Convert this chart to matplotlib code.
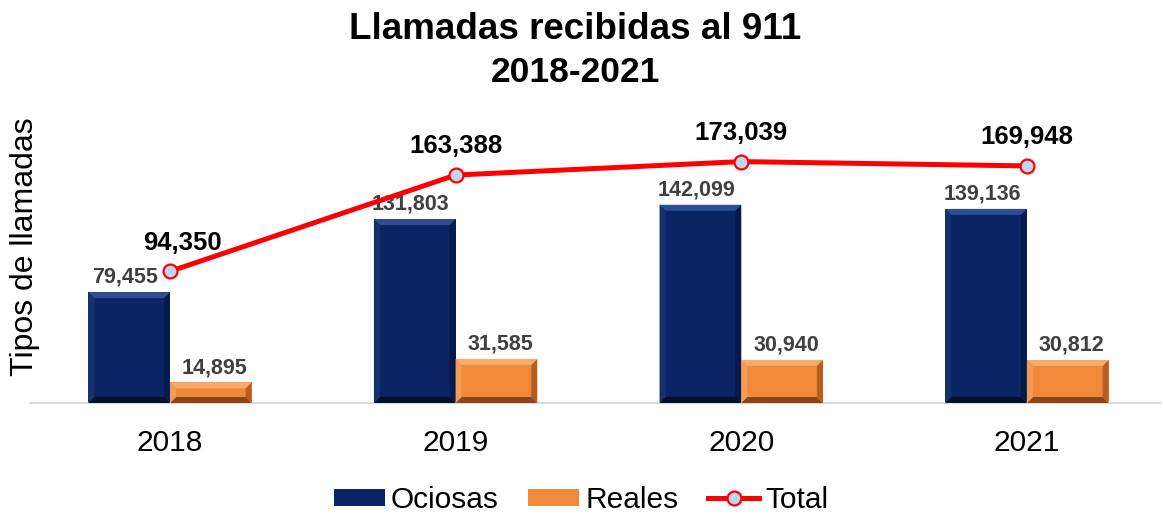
import matplotlib
matplotlib.use("Agg")
from matplotlib import pyplot as plt
from matplotlib.patches import Polygon
import numpy as np

years = ["2018", "2019", "2020", "2021"]
ociosas = [79455, 131803, 142099, 139136]
reales = [14895, 31585, 30940, 30812]
total = [94350, 163388, 173039, 169948]

plt.rcParams['font.family'] = ['Liberation Sans', 'DejaVu Sans']

W, H = 1163, 516
fig = plt.figure(figsize=(W / 100, H / 100), dpi=100)
ax = fig.add_axes([30 / W, 113 / H, 1130 / W, 303 / H])

x = np.arange(len(years))
bw = 0.286
navy = "#0b2464"
orange = "#f08a3a"

b1 = ax.bar(x - bw / 2, ociosas, bw, color=navy, label="Ociosas", zorder=2)
b2 = ax.bar(x + bw / 2, reales, bw, color=orange, label="Reales", zorder=2)
ln, = ax.plot(x, total, color="#ff0000", lw=3.6, marker="o", ms=10,
              mfc="#bdd7ee", mec="#ff0000", mew=1.6, label="Total", zorder=4)

ax.set_xlim(-0.49, 3.466)
ax.set_ylim(0, 217200)


def bevel(bars, top, left, bottom, right, size=6):
    # bevelled edges, sized in pixels
    inv = ax.transData.inverted()
    for b in bars:
        x0, y0 = b.get_x(), b.get_y()
        x1, y1 = x0 + b.get_width(), y0 + b.get_height()
        (px0, py0), (px1, py1) = ax.transData.transform([(x0, y0), (x1, y1)])
        s = min(size, (py1 - py0) / 3)
        outer = [(px0, py0), (px1, py0), (px1, py1), (px0, py1)]
        inner = [(px0 + s, py0 + s), (px1 - s, py0 + s), (px1 - s, py1 - s), (px0 + s, py1 - s)]
        sides = [
            ([outer[0], outer[1], inner[1], inner[0]], bottom),
            ([outer[1], outer[2], inner[2], inner[1]], right),
            ([outer[2], outer[3], inner[3], inner[2]], top),
            ([outer[3], outer[0], inner[0], inner[3]], left),
        ]
        for pts, c in sides:
            ax.add_patch(Polygon(inv.transform(pts), closed=True, facecolor=c,
                                 edgecolor="none", zorder=3))


bevel(b1, "#2e4d92", "#16316f", "#030f30", "#061a4c")
bevel(b2, "#f8ab6c", "#f39c55", "#8e4614", "#b85d1c")

for xi, v in zip(x - bw / 2, ociosas):
    ax.annotate(f"{v:,}", (xi, v), xytext=(-3, 3), textcoords="offset points",
                ha="center", va="bottom", fontsize=15.5, fontweight="bold", color="#404040")
for xi, v in zip(x + bw / 2, reales):
    ax.annotate(f"{v:,}", (xi, v), xytext=(3, 3), textcoords="offset points",
                ha="center", va="bottom", fontsize=15.5, fontweight="bold", color="#404040")
shift = [9, 0, 0, 0]
for xi, v, dx in zip(x, total, shift):
    ax.annotate(f"{v:,}", (xi, v), xytext=(dx, 12), textcoords="offset points",
                ha="center", va="bottom", fontsize=18.5, fontweight="bold", color="black")

for s in ["top", "right", "left"]:
    ax.spines[s].set_visible(False)
ax.spines["bottom"].set_color("#d9d9d9")
ax.spines["bottom"].set_linewidth(1.5)
ax.set_yticks([])
ax.set_xticks(x)
ax.set_xticklabels(years, fontsize=21.5)
ax.tick_params(axis="x", length=0, pad=19)

fig.text(575 / W, 1 - 39 / H, "Llamadas recibidas al 911", ha="center", va="baseline",
         fontsize=26.5, fontweight="bold")
fig.text(575 / W, 1 - 82 / H, "2018-2021", ha="center", va="baseline",
         fontsize=25.5, fontweight="bold")
fig.text(25 / W, 1 - 247 / H, "Tipos de llamadas", rotation=90, ha="center", va="center",
         fontsize=23)

fig.legend(handles=[b1, b2, ln], loc="center", bbox_to_anchor=(581 / W, 1 - 500 / H),
           ncol=3, frameon=False, fontsize=21.5, handlelength=1.7, handleheight=0.5,
           handletextpad=0.2, columnspacing=1.0, borderpad=0)

fig.savefig("out.png", dpi=100)
